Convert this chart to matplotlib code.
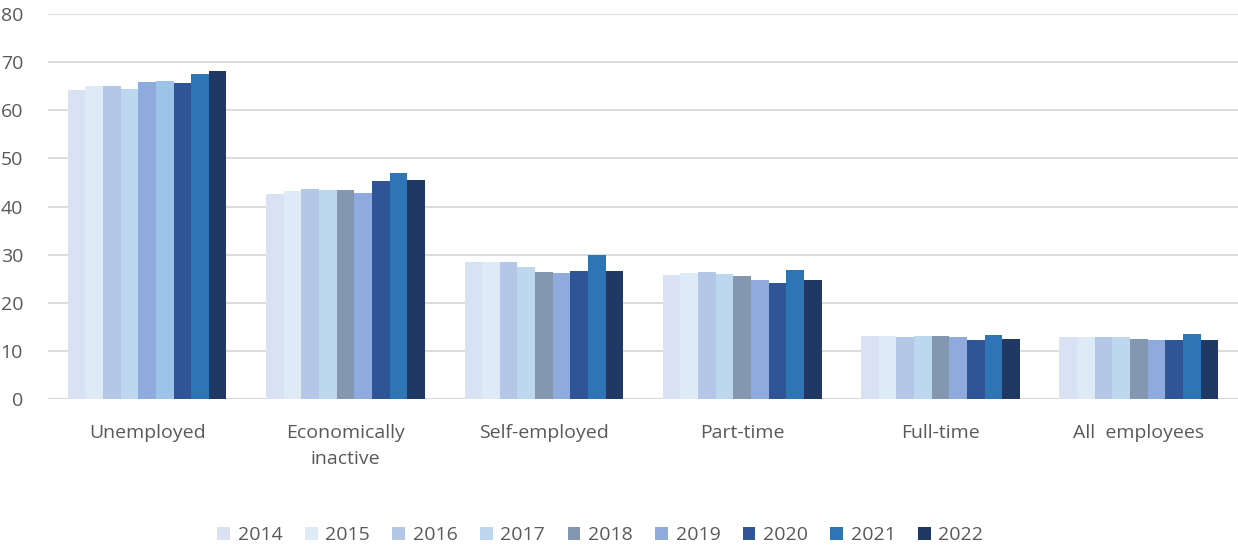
import matplotlib.pyplot as plt
from matplotlib.patches import Patch
import numpy as np

categories = ["Unemployed", "Economically\ninactive", "Self-employed",
              "Part-time", "Full-time", "All  employees"]
years = ["2014", "2015", "2016", "2017", "2018", "2019", "2020", "2021", "2022"]

# one list per year, values in category order
v2014 = [64.2, 42.6, 28.5, 25.8, 13.1, 12.8]
v2015 = [65.0, 43.2, 28.5, 26.1, 13.1, 12.8]
v2016 = [65.0, 43.7, 28.5, 26.4, 12.8, 12.8]
v2017 = [64.5, 43.4, 27.4, 25.9, 13.1, 12.8]
v2018 = [65.8, 43.4, 26.3, 25.6, 13.1, 12.5]
v2019 = [66.0, 42.9, 26.1, 24.8, 12.8, 12.3]
v2020 = [65.6, 45.2, 26.7, 24.2, 12.3, 12.3]
v2021 = [67.5, 46.9, 29.9, 26.9, 13.3, 13.6]
v2022 = [68.2, 45.5, 26.7, 24.8, 12.5, 12.3]
series = [v2014, v2015, v2016, v2017, v2018, v2019, v2020, v2021, v2022]

colors = ["#D9E2F3", "#DEEBF7", "#B4C7E7", "#BDD7EE", "#8497B0",
          "#8FAADC", "#2F5597", "#2E75B6", "#203864"]

plt.rcParams['font.family'] = ['Open Sans', 'DejaVu Sans']

fig = plt.figure(figsize=(12.38, 5.48), dpi=100)
ax = fig.add_axes([48 / 1238, 1 - 399 / 548, 1190 / 1238, 385 / 548])

x = np.arange(len(categories))
n = len(years)
group_w = 0.8
w = group_w / n
for i, (yr, vals) in enumerate(zip(years, series)):
    cols = [colors[i]] * len(categories)
    # the first group in the source uses slightly different shades for 2018/2019
    if yr == "2018":
        cols[0] = "#8FAADC"
    if yr == "2019":
        cols[0] = "#9DC3E6"
    ax.bar(x - group_w / 2 + w * (i + 0.5), vals, width=w, color=cols, zorder=3)

ax.set_xlim(-0.5, len(categories) - 0.5)
ax.set_ylim(0, 80)
ax.set_yticks(range(0, 81, 10))
ax.yaxis.grid(True, color="#D9D9D9", linewidth=1.3, zorder=0)
ax.set_axisbelow(True)
for s in ax.spines.values():
    s.set_visible(False)
ax.axhline(0, color="#D9D9D9", linewidth=1.5, zorder=2)

ax.set_xticks(x)
ax.set_xticklabels(categories, fontsize=14, color="#595959", va="top",
                   linespacing=1.55)
ax.tick_params(axis="x", length=0, pad=18)
ax.tick_params(axis="y", length=0, labelsize=14, labelcolor="#595959", pad=18)

handles = [Patch(facecolor=c, label=yr) for c, yr in zip(colors, years)]
fig.legend(handles=handles, loc="lower center", ncol=n, frameon=False,
           fontsize=14, labelcolor="#595959", handlelength=0.65,
           handleheight=0.65, handletextpad=0.4, columnspacing=1.15,
           bbox_to_anchor=(0.485, -0.025))

fig.savefig("out.png", dpi=100)
